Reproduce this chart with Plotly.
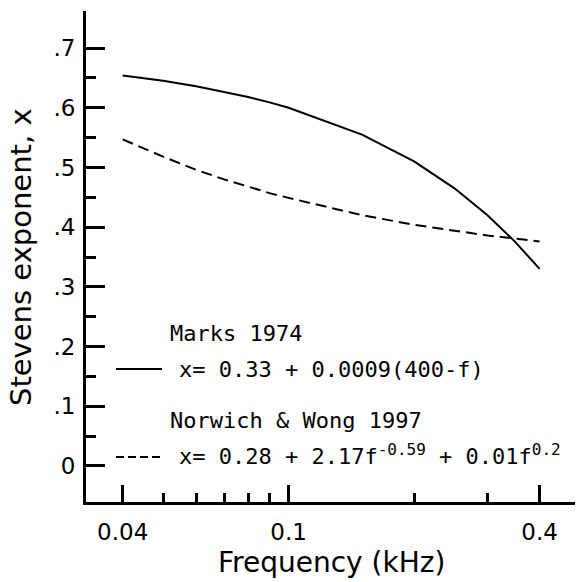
import plotly.graph_objects as go

# Frequency (kHz)
freq_khz = [0.04, 0.05, 0.06, 0.07, 0.08, 0.09, 0.10, 0.15, 0.20, 0.25, 0.30, 0.35, 0.40]
# Marks 1974 exponent
marks_1974 = [0.654, 0.645, 0.636, 0.627, 0.618, 0.609, 0.600, 0.555, 0.510, 0.465, 0.420, 0.375, 0.330]
# Norwich & Wong 1997 exponent
norwich_wong = [0.547, 0.518, 0.496, 0.480, 0.468, 0.457, 0.449, 0.420, 0.404, 0.394, 0.386, 0.381, 0.376]

x_tick_vals = [0.04, 0.1, 0.4]
x_tick_text = ["0.04", "0.1", "0.4"]
x_minor_vals = [0.05, 0.06, 0.07, 0.08, 0.09, 0.2, 0.3]
y_tick_vals = [0, 0.1, 0.2, 0.3, 0.4, 0.5, 0.6, 0.7]
y_tick_text = ["0", ".1", ".2", ".3", ".4", ".5", ".6", ".7"]
y_minor_vals = [0.05, 0.15, 0.25, 0.35, 0.45, 0.55, 0.65]

x_title = "Frequency (kHz)"
y_title = "Stevens exponent, x"
legend_titles = ["Marks 1974", "Norwich & Wong 1997"]
legend_formulas = ["x= 0.33 + 0.0009(400-f)",
                   "x= 0.28 + 2.17f<sup><span style=\"font-size:16px\">-0.59</span></sup>"
                   " + 0.01f<sup><span style=\"font-size:16px\">0.2</span></sup>"]

fig = go.Figure()
fig.add_trace(go.Scatter(x=freq_khz, y=marks_1974, mode="lines",
                         line=dict(color="black", width=2), showlegend=False))
fig.add_trace(go.Scatter(x=freq_khz, y=norwich_wong, mode="lines",
                         line=dict(color="black", width=2, dash="11px,6px"), showlegend=False))

mono = "DejaVu Sans Mono"
sans = "DejaVu Sans"

W, H = 576, 582
L, R, T, B = 86, 1, 11, 80
pw = W - L - R
ph = H - T - B


def px(xw):
    return (xw - L) / pw


def py(yw):
    return (H - B - yw) / ph


# axis titles
fig.add_annotation(xref="paper", yref="paper", x=px(331), y=py(562), text=x_title,
                   showarrow=False, xanchor="center", yanchor="middle",
                   font=dict(family=sans, size=28, color="black"))
fig.add_annotation(xref="paper", yref="paper", x=px(21), y=py(257), text=y_title,
                   showarrow=False, xanchor="center", yanchor="middle", textangle=-90,
                   font=dict(family=sans, size=29, color="black"))

# legend texts
fs = 22
fig.add_annotation(xref="paper", yref="paper", x=px(168), y=py(333), text=legend_titles[0],
                   showarrow=False, xanchor="left", yanchor="middle",
                   font=dict(family=mono, size=fs, color="black"))
fig.add_annotation(xref="paper", yref="paper", x=px(177), y=py(369), text=legend_formulas[0],
                   showarrow=False, xanchor="left", yanchor="middle",
                   font=dict(family=mono, size=fs, color="black"))
fig.add_annotation(xref="paper", yref="paper", x=px(168), y=py(421), text=legend_titles[1],
                   showarrow=False, xanchor="left", yanchor="middle",
                   font=dict(family=mono, size=fs, color="black"))
fig.add_annotation(xref="paper", yref="paper", x=px(177), y=py(454), text=legend_formulas[1],
                   showarrow=False, xanchor="left", yanchor="middle",
                   font=dict(family=mono, size=fs, color="black"))
# legend samples
fig.add_shape(type="line", xref="paper", yref="paper", x0=px(116), x1=px(162), y0=py(369), y1=py(369),
              line=dict(color="black", width=2))
fig.add_shape(type="line", xref="paper", yref="paper", x0=px(116), x1=px(162), y0=py(457), y1=py(457),
              line=dict(color="black", width=2, dash="8px,4px"))

fig.update_layout(
    width=W, height=H,
    margin=dict(l=L, r=R, t=T, b=B, autoexpand=False),
    paper_bgcolor="white", plot_bgcolor="white",
    font=dict(family=sans, color="black"),
    xaxis=dict(type="log", range=[-1.486, -0.313],
               showline=True, linecolor="black", linewidth=3, mirror=False,
               showgrid=False, zeroline=False,
               tickmode="array", tickvals=x_tick_vals, ticktext=x_tick_text,
               ticks="inside", ticklen=17, tickwidth=3, tickcolor="black",
               tickfont=dict(family=sans, size=23),
               ticklabelstandoff=7,
               minor=dict(tickmode="array", tickvals=x_minor_vals, ticks="inside",
                          ticklen=9, tickwidth=3, tickcolor="black", showgrid=False),
               automargin=False),
    yaxis=dict(range=[-0.0603, 0.762],
               showline=True, linecolor="black", linewidth=3, mirror=False,
               showgrid=False, zeroline=False,
               tickmode="array", tickvals=y_tick_vals, ticktext=y_tick_text,
               ticks="inside", ticklen=19, tickwidth=3, tickcolor="black",
               tickfont=dict(family=sans, size=23),
               ticklabelstandoff=3,
               minor=dict(tickmode="array", tickvals=y_minor_vals, ticks="inside",
                          ticklen=10, tickwidth=3, tickcolor="black", showgrid=False),
               automargin=False),
)

# remove the default 8px page margin so the figure fills the window exactly
fig.write_html("out.html", config={"displayModeBar": False},
               post_script="document.body.style.margin='0';document.body.style.overflow='hidden';")
